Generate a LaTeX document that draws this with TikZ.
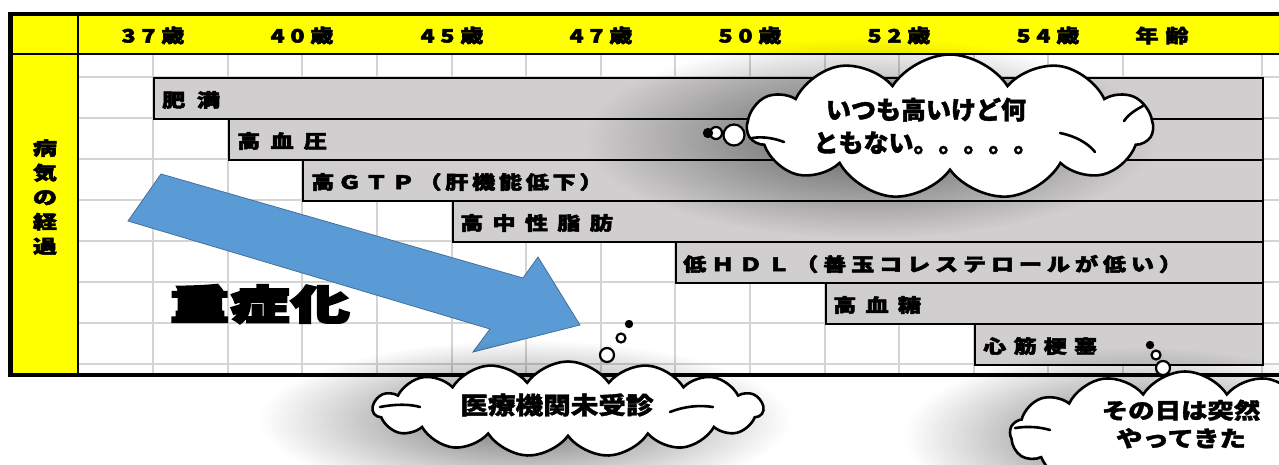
\documentclass[tikz,border=0pt]{standalone}
\usepackage{fontspec}
\usepackage{graphicx}
\usetikzlibrary{shapes.symbols,fadings}
\newfontfamily\jp{Noto Sans CJK JP}[FakeBold=2.5]
\newfontfamily\jpc{Noto Sans CJK JP}[BoldFeatures={FakeBold=1.5}]
\newfontfamily\jpheavy{Noto Sans CJK JP}[BoldFeatures={FakeBold=6}]
\definecolor{hdr}{RGB}{255,255,0}
\definecolor{gridc}{RGB}{212,212,212}
\definecolor{barc}{RGB}{208,206,206}
\definecolor{arrowc}{RGB}{91,155,213}
\definecolor{arrowd}{RGB}{65,113,156}
\tikzfading[name=softshadow, inner color=transparent!0, outer color=transparent!100]
\newcommand\boxlab[2]{\scalebox{1.25}[1]{\addfontfeature{LetterSpace=#1}#2}}
\tikzset{
  bar/.style={draw=black, line width=2pt, fill=barc, anchor=north west, minimum height=41pt, inner sep=0pt},
  barlab/.style={anchor=west, inner sep=0pt, font=\jp\bfseries\fontsize{18.5}{20}\selectfont},
  agelab/.style={inner sep=0pt, font=\jp\bfseries\fontsize{18.5}{20}\selectfont},
  thought/.style={cloud, draw=black, fill=white, line width=2.6pt, cloud ignores aspect, inner sep=0pt},
  shadowblob/.style={fill=black, fill opacity=0.55, path fading=softshadow},
  bub/.style={circle, draw=black, fill=white, line width=2.2pt, inner sep=0pt},
  curl/.style={line width=2.6pt, line cap=round},
}
\begin{document}
\begin{tikzpicture}[x=1pt,y=-1pt]
\useasboundingbox (0,0) rectangle (1279,464);
\clip (0,0) rectangle (1279,464);
\fill[white] (0,0) rectangle (1279,464);
% yellow header and side
\fill[hdr] (10,14) rectangle (1295,54);
\fill[hdr] (10,14) rectangle (78,375);
% grid
\foreach \x in {153,228,302,377,452,526,601,675,750,825,899,974,1048,1123,1262}
  \draw[gridc, line width=2pt] (\x,55) -- (\x,374);
\foreach \y in {77,118,159,200,241,282,323,364}
  \draw[gridc, line width=2pt] (79,\y) -- (1295,\y);
% header separators
\draw[black, line width=2pt] (12,54) -- (1295,54);
\draw[black, line width=2pt] (78,15) -- (78,375);
% frame
\draw[black, line width=4pt] (1295,13.5) -- (10,13.5) -- (10,375) -- (1295,375);
\draw[black, line width=5pt] (10,11.5) -- (10,377);
% age labels
\node[agelab] (a37) at (153,35.5) {\boxlab{25}{37歳}};
\node[agelab] (a40) at (302,35.5) {\boxlab{25}{40歳}};
\node[agelab] (a45) at (452,35.5) {\boxlab{25}{45歳}};
\node[agelab] (a47) at (601,35.5) {\boxlab{25}{47歳}};
\node[agelab] (a50) at (750,35.5) {\boxlab{25}{50歳}};
\node[agelab] (a52) at (899,35.5) {\boxlab{25}{52歳}};
\node[agelab] (a54) at (1048,35.5) {\boxlab{25}{54歳}};
\node[agelab] (nen) at (1162,35.5) {\boxlab{30}{年齢}};
% side label
\node[inner sep=0pt, align=center, font=\jp\bfseries\fontsize{18.5}{24.5}\selectfont] (side) at (45,197)
  {\scalebox{1.3}[1]{病}\\\scalebox{1.3}[1]{気}\\\scalebox{1.3}[1]{の}\\\scalebox{1.3}[1]{経}\\\scalebox{1.3}[1]{過}};
% bars
\node[bar, minimum width=1109pt] (b1) at (153,77) {};
\node[bar, minimum width=1034pt] (b2) at (228,118) {};
\node[bar, minimum width=960pt] (b3) at (302,159) {};
\node[bar, minimum width=810pt] (b4) at (452,200) {};
\node[bar, minimum width=587pt] (b5) at (675,241) {};
\node[bar, minimum width=437pt] (b6) at (825,282) {};
\node[bar, minimum width=288pt] (b7) at (974,323) {};
\node[barlab] (t1) at ([xshift=9pt,yshift=-1.5pt]b1.west) {\boxlab{50}{肥満}};
\node[barlab] (t2) at ([xshift=9pt,yshift=-1.5pt]b2.west) {\boxlab{44}{高血圧}};
\node[barlab] (t3) at ([xshift=9pt,yshift=-1.5pt]b3.west) {\boxlab{16}{高ＧＴＰ（肝機能低下）}};
\node[barlab] (t4) at ([xshift=8pt,yshift=-1.5pt]b4.west) {\boxlab{40}{高中性脂肪}};
\node[barlab] (t5) at ([xshift=8pt,yshift=-1.5pt]b5.west) {\boxlab{21}{低ＨＤＬ（善玉コレステロールが低い）}};
\node[barlab] (t6) at ([xshift=8pt,yshift=-1.5pt]b6.west) {\boxlab{40}{高血糖}};
\node[barlab] (t7) at ([xshift=9pt,yshift=-1.5pt]b7.west) {\boxlab{31}{心筋梗塞}};
% big arrow
\filldraw[fill=arrowc, draw=arrowd, line width=0.8pt]
  (161,174) -- (523,278) -- (538,257) -- (580,325) -- (473,352) -- (490,329) -- (128,221) -- cycle;
% heavy label
\node[inner sep=0pt, font=\jpheavy\bfseries\fontsize{40}{40}\selectfont] (jusho) at (260,304)
  {\scalebox{1.45}[1]{\addfontfeature{LetterSpace=4}重症化}};
% soft shadows
\fill[shadowblob] (870,138) ellipse [x radius=285pt, y radius=100pt];
\fill[shadowblob] (525,420) ellipse [x radius=265pt, y radius=80pt];
\fill[shadowblob] (1140,437) ellipse [x radius=235pt, y radius=90pt];
% cloud 1
\node[thought, cloud puffs=11, cloud puff arc=115, minimum width=405pt, minimum height=145pt] (c1) at (950,127) {};
\node[align=center, inner sep=0pt, font=\jpc\bfseries\fontsize{25}{33}\selectfont] (c1t) at (926,126)
  {いつも高いけど何\\ともない。。。。。};
\draw[curl] (752,138) .. controls (765,136) and (776,139) .. (784,142);
\draw[curl] (1060,133) .. controls (1075,136) and (1088,143) .. (1095,152);
\draw[curl] (1143,106) .. controls (1135,110) and (1128,115) .. (1124,121);
\node[bub, minimum size=21pt] (c1b1) at (734,135) {};
\node[bub, minimum size=12pt] (c1b2) at (716,133) {};
\node[bub, minimum size=8pt, fill=black] (c1b3) at (708,133) {};
% cloud 2
\node[thought, cloud puffs=15, cloud puff arc=110, minimum width=390pt, minimum height=95pt] (c2) at (568,409) {};
\node[inner sep=0pt, font=\jpc\bfseries\fontsize{24}{30}\selectfont] (c2t) at (557,405)
  {\scalebox{1.15}[1]{医療機関未受診}};
\draw[curl] (380,407) .. controls (395,404) and (410,404) .. (420,407);
\draw[curl] (670,412) .. controls (685,406) and (700,405) .. (713,407);
\node[bub, minimum size=14pt] (c2b1) at (607,355) {};
\node[bub, minimum size=9pt] (c2b2) at (621,338) {};
\node[bub, minimum size=6pt, fill=black] (c2b3) at (629,324) {};
% cloud 3
\node[thought, cloud puffs=13, cloud puff arc=115, minimum width=350pt, minimum height=125pt] (c3) at (1185,434) {};
\node[align=center, inner sep=0pt, font=\jpc\bfseries\fontsize{22}{28}\selectfont] (c3t) at (1181,424)
  {\scalebox{1.2}[1]{その日は突然}\\\scalebox{1.2}[1]{やってきた}};
\draw[curl] (1015,428) .. controls (1028,426) and (1040,427) .. (1050,430);
\node[bub, minimum size=14pt] (c3b1) at (1163,368) {};
\node[bub, minimum size=9pt] (c3b2) at (1156,355) {};
\node[bub, minimum size=6pt, fill=black] (c3b3) at (1150,345) {};
\end{tikzpicture}
\end{document}
